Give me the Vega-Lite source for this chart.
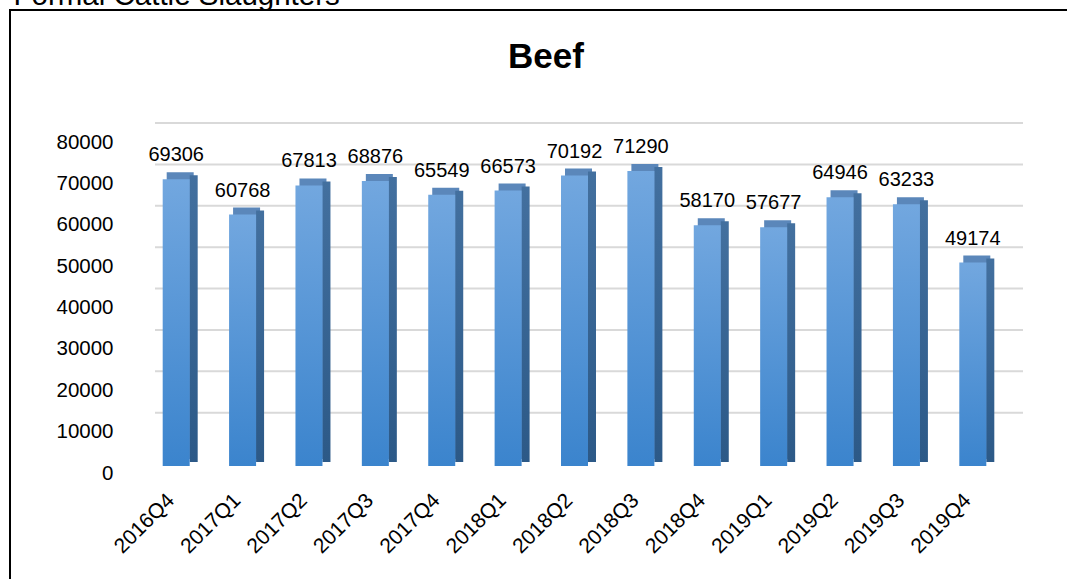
{
  "$schema": "https://vega.github.io/schema/vega-lite/v6.json",
  "width": 1062,
  "height": 574,
  "autosize": {"type": "none"},
  "padding": {"left": 10, "top": 10, "right": 0, "bottom": 0},
  "background": "white",
  "config": {
    "view": {"stroke": "black", "strokeWidth": 2},
    "font": "Liberation Sans"
  },
  "title": {
    "text": "Beef",
    "fontSize": 35,
    "fontWeight": "bold",
    "font": "Liberation Sans",
    "color": "black",
    "anchor": "middle",
    "frame": "group",
    "baseline": "alphabetic",
    "offset": -123,
    "dx": 5
  },
  "datasets": {
    "beef": [
      {"quarter": "2016Q4", "value": 69306},
      {"quarter": "2017Q1", "value": 60768},
      {"quarter": "2017Q2", "value": 67813},
      {"quarter": "2017Q3", "value": 68876},
      {"quarter": "2017Q4", "value": 65549},
      {"quarter": "2018Q1", "value": 66573},
      {"quarter": "2018Q2", "value": 70192},
      {"quarter": "2018Q3", "value": 71290},
      {"quarter": "2018Q4", "value": 58170},
      {"quarter": "2019Q1", "value": 57677},
      {"quarter": "2019Q2", "value": 64946},
      {"quarter": "2019Q3", "value": 63233},
      {"quarter": "2019Q4", "value": 49174}
    ],
    "grid": [
      {"v": 10000}, {"v": 20000}, {"v": 30000}, {"v": 40000},
      {"v": 50000}, {"v": 60000}, {"v": 70000}, {"v": 80000}
    ]
  },
  "encoding": {
    "x": {
      "field": "quarter",
      "type": "nominal",
      "scale": {"range": [133, 996], "paddingInner": 0, "paddingOuter": 0},
      "axis": {
        "title": null,
        "orient": "bottom",
        "offset": -87,
        "tickSize": 0,
        "ticks": false,
        "domain": false,
        "grid": false,
        "labelPadding": 0,
        "labelAngle": -45,
        "labelAlign": "right",
        "labelBaseline": "middle",
        "labelOffset": -5,
        "labelFontSize": 21,
        "labelFont": "Liberation Sans",
        "labelColor": "black"
      }
    },
    "y": {
      "field": "value",
      "type": "quantitative",
      "scale": {"domain": [0, 80000], "range": [456, 125], "nice": false, "zero": false},
      "axis": {
        "title": "Formal Cattle Slaughters",
        "titleAngle": 0,
        "titleX": -100,
        "titleY": -6,
        "titleAlign": "left",
        "titleBaseline": "alphabetic",
        "titleFontSize": 29.5,
        "titleFontWeight": "normal",
        "titleFont": "Liberation Sans",
        "titleColor": "black",
        "offset": -103,
        "values": [0, 10000, 20000, 30000, 40000, 50000, 60000, 70000, 80000],
        "format": "d",
        "tickSize": 0,
        "ticks": false,
        "domain": false,
        "grid": false,
        "labelPadding": 0,
        "labelOffset": 7,
        "labelFontSize": 20.5,
        "labelFont": "Liberation Sans",
        "labelColor": "black"
      }
    }
  },
  "layer": [
    {
      "data": {"name": "grid"},
      "mark": {"type": "rule", "color": "#d9d9d9", "strokeWidth": 2, "xOffset": 12, "x2Offset": 17, "yOffset": -12},
      "encoding": {
        "x": {"datum": "2016Q4", "bandPosition": 0},
        "x2": {"datum": "2019Q4", "bandPosition": 1},
        "y": {"field": "v", "type": "quantitative"}
      }
    },
    {
      "data": {"name": "grid"},
      "transform": [{"filter": "datum.v == 10000"}],
      "mark": {"type": "rule", "color": "#d4d4d4", "strokeWidth": 8, "xOffset": 4, "x2Offset": 19, "yOffset": 0},
      "encoding": {
        "x": {"datum": "2016Q4", "bandPosition": 0},
        "x2": {"datum": "2019Q4", "bandPosition": 1},
        "y": {"datum": 0}
      }
    },
    {
      "data": {"name": "grid"},
      "transform": [{"filter": "datum.v == 10000"}],
      "mark": {"type": "rule", "color": "#a6a6a6", "strokeWidth": 4, "xOffset": 8, "x2Offset": 15, "yOffset": -3, "opacity": 0.8},
      "encoding": {
        "x": {"datum": "2016Q4", "bandPosition": 0},
        "x2": {"datum": "2019Q4", "bandPosition": 1},
        "y": {"datum": 0}
      }
    },
    {
      "data": {"name": "beef"},
      "mark": {"type": "bar", "width": 27, "xOffset": 4, "yOffset": -7, "color": "#5b87ba"}
    },
    {
      "data": {"name": "beef"},
      "mark": {
        "type": "bar",
        "width": 8,
        "xOffset": 17.5,
        "yOffset": -4,
        "color": {
          "gradient": "linear",
          "x1": 0, "y1": 0, "x2": 0, "y2": 1,
          "stops": [{"offset": 0, "color": "#43709f"}, {"offset": 1, "color": "#2c5987"}]
        }
      }
    },
    {
      "data": {"name": "beef"},
      "mark": {
        "type": "bar",
        "width": 27,
        "color": {
          "gradient": "linear",
          "x1": 0, "y1": 0, "x2": 0, "y2": 1,
          "stops": [{"offset": 0, "color": "#72a7df"}, {"offset": 1, "color": "#3b84cd"}]
        }
      }
    },
    {
      "data": {"name": "beef"},
      "mark": {"type": "text", "dy": -18, "baseline": "alphabetic", "fontSize": 20, "font": "Liberation Sans", "color": "black"},
      "encoding": {"text": {"field": "value", "type": "quantitative", "format": "d"}}
    }
  ]
}
